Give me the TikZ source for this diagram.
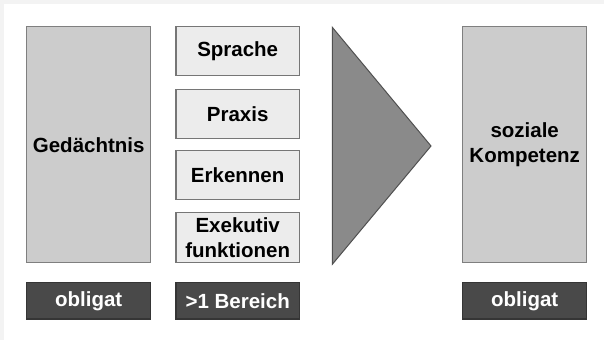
\documentclass[tikz,border=0pt]{standalone}
\usepackage{fontspec}
\setmainfont{Liberation Sans}
\definecolor{bgframe}{HTML}{F3F3F3}
\definecolor{bigfill}{HTML}{CCCCCC}
\definecolor{bigdraw}{HTML}{7F7F7F}
\definecolor{smallfill}{HTML}{ECECEC}
\definecolor{smalldraw}{HTML}{767676}
\definecolor{darkfill}{HTML}{494949}
\definecolor{darkdraw}{HTML}{353535}
\definecolor{trifill}{HTML}{8A8A8A}
\definecolor{tridraw}{HTML}{505050}
\tikzset{
  lbl/.style={font=\fontsize{20.5}{25}\selectfont\bfseries, align=center, inner sep=0pt},
  bigbox/.style={lbl, draw=bigdraw, fill=bigfill, line width=1.3pt, minimum width=124pt, minimum height=236pt},
  smallbox/.style={lbl, draw=smalldraw, fill=smallfill, line width=1.3pt, minimum width=123.5pt, minimum height=49pt},
  darkbox/.style={lbl, draw=darkdraw, fill=darkfill, text=white, line width=1.3pt, minimum width=124pt, minimum height=36.5pt},
}
\begin{document}
\begin{tikzpicture}[x=1pt,y=-1pt]
\useasboundingbox (0,0) rectangle (604,340);
\fill[bgframe] (0,0) rectangle (604,340);
\fill[white] (4,4) rectangle (604,340);
\node[bigbox] (ged) at (88.7,144.7) {Gedächtnis};
\node[smallbox] (spr) at (237.7,51) {Sprache};
\node[smallbox] (pra) at (237.7,113.7) {Praxis};
\node[smallbox] (erk) at (237.7,175) {Erkennen};
\node[smallbox, minimum height=50.4pt] (exe) at (237.7,237.5) {Exekutiv\\funktionen};
\node[darkbox] (ob1) at (88.7,300.8) {obligat};
\node[darkbox, minimum width=123.5pt] (ber) at (237.7,300.8) {>1 Bereich};
\node[bigbox, minimum height=235.6pt] (soz) at (524.7,144.5) {soziale\\Kompetenz};
\node[darkbox] (ob2) at (524.7,300.8) {obligat};
\coordinate (t1) at (332.3,27.3);
\coordinate (t2) at (431,146);
\coordinate (t3) at (332.3,264.3);
\filldraw[fill=trifill, draw=tridraw, line width=1pt, line join=miter] (t1) -- (t2) -- (t3) -- cycle;
\end{tikzpicture}
\end{document}
